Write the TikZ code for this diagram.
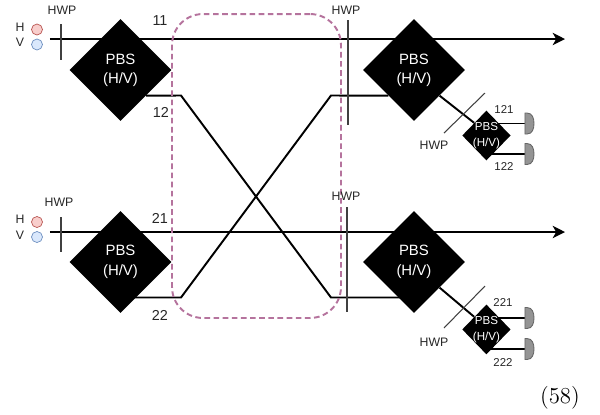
\documentclass[tikz,border=0pt]{standalone}
\usepackage{fontspec}
\setmainfont{Liberation Sans}
\newfontfamily\numfont{Latin Modern Roman}
\usetikzlibrary{shapes.geometric, arrows.meta, positioning, backgrounds}
\definecolor{polred}{HTML}{F8CECC}
\definecolor{polredline}{HTML}{B85450}
\definecolor{polblue}{HTML}{DAE8FC}
\definecolor{polblueline}{HTML}{6C8EBF}
\definecolor{boxline}{HTML}{B5739D}

\begin{document}
\begin{tikzpicture}[
    x=0.02cm, y=0.02cm, on grid,
    pbs/.style = {diamond, fill=black, text=white, inner sep=0pt, align=center, font=\fontsize{8.5}{11}\selectfont, minimum width=2.04cm, minimum height=2.04cm},
    pbssmall/.style = {diamond, fill=black, inner sep=0pt, minimum width=0.97cm, minimum height=1.0cm},
    pbstext/.style = {text=white, inner sep=0pt, align=center, font=\fontsize{6.6}{9}\selectfont},
    lbl/.style = {inner sep=0pt, text=black!85, font=\fontsize{7}{8}\selectfont},
    num/.style = {lbl, font=\fontsize{8.2}{10}\selectfont},
    numsmall/.style = {lbl, font=\fontsize{6.5}{8}\selectfont},
    polh/.style = {circle, draw=polredline, fill=polred, inner sep=0pt, minimum size=0.22cm, line width=0.4pt},
    polv/.style = {circle, draw=polblueline, fill=polblue, inner sep=0pt, minimum size=0.22cm, line width=0.4pt},
    beam/.style = {draw=black, line width=1.1pt},
    arrow/.style = {beam, -{Stealth[length=7pt,width=7pt,inset=2pt]}},
    wave/.style = {draw=black!75, line width=0.6pt},
    dashbox/.style = {draw=boxline, dash pattern=on 3.2pt off 2pt, line width=1.1pt, rounded corners=0.62cm, minimum width=3.38cm, minimum height=6.08cm},
    detector/.pic = {\draw[draw=black!60, fill=black!42, line width=0.5pt] (0,10.5) -- (2,10.5) .. controls (7.5,10.5) and (9,5) .. (9,0) .. controls (9,-5) and (7.5,-10.5) .. (2,-10.5) -- (0,-10.5) -- cycle;}
]
\useasboundingbox (0,0) rectangle (600,-414);

% big splitters
\node (pbs_tl) [pbs] at (120.5,-70) {PBS\\(H/V)};
\node (pbs_bl) [pbs, below=3.84cm of pbs_tl] {PBS\\(H/V)};
\node (pbs_tr) [pbs, right=5.87cm of pbs_tl] {PBS\\(H/V)};
\node (pbs_br) [pbs, below=3.84cm of pbs_tr] {PBS\\(H/V)};

% small splitters
\node (pbs_ta) [pbssmall, below right=1.31cm and 1.45cm of pbs_tr] {};
\node (pbs_ba) [pbssmall, below right=1.35cm and 1.45cm of pbs_br] {};
\node (txt_ta) [pbstext] at (pbs_ta) {PBS\\(H/V)};
\node (txt_ba) [pbstext] at (pbs_ba) {PBS\\(H/V)};

% input circles
\node (pol_th) [polh] at (37,-29.5) {};
\node (pol_tv) [polv] at (37,-44.5) {};
\node (pol_bh) [polh] at (37,-222) {};
\node (pol_bv) [polv] at (37,-237) {};
\node (lbl_th) [lbl, left=0.34cm of pol_th, yshift=1.2pt] {H};
\node (lbl_tv) [lbl, left=0.34cm of pol_tv, yshift=1.2pt] {V};
\node (lbl_bh) [lbl, left=0.34cm of pol_bh, yshift=1.6pt] {H};
\node (lbl_bv) [lbl, left=0.34cm of pol_bv, yshift=1.2pt] {V};

% free ends
\coordinate (in_t) at (50,-39);
\coordinate (out_t) at (565,-39);
\coordinate (in_b) at (50,-232);
\coordinate (out_b) at (565,-232);
\coordinate (bend_a) at (181,-95.5);
\coordinate (bend_b) at (331,-297.5);
\coordinate (bend_c) at (181,-297.5);
\coordinate (bend_d) at (331,-95.5);
\coordinate (hwp_a) at (61,-24);
\coordinate (hwp_b) at (61,-60);
\coordinate (hwp_c) at (61,-217);
\coordinate (hwp_d) at (61,-252);
\coordinate (hwp_e) at (348,-20);
\coordinate (hwp_f) at (348,-125);
\coordinate (hwp_g) at (347,-207);
\coordinate (hwp_h) at (347,-312);
\coordinate (hwp_i) at (485,-93);
\coordinate (hwp_j) at (444,-133);
\coordinate (hwp_k) at (485,-286);
\coordinate (hwp_l) at (444,-328);

% detectors
\coordinate (det_121) at (525,-123.5);
\coordinate (det_122) at (525,-154);
\coordinate (det_221) at (525,-318);
\coordinate (det_222) at (525,-349);
\pic at (det_121) {detector};
\pic at (det_122) {detector};
\pic at (det_221) {detector};
\pic at (det_222) {detector};

\begin{scope}[on background layer]
\draw [arrow] (in_t) -- (out_t);
\draw [arrow] (in_b) -- (out_b);
\draw [beam] (pbs_tl.south east) -- (bend_a) -- (bend_b) -- (pbs_br.center |- bend_b);
\draw [beam] (pbs_bl.center |- bend_c) -- (bend_c) -- (bend_d) -- (pbs_tr.south west);
\draw [beam] (pbs_tr.south east) -- (pbs_ta.north west);
\draw [beam] (pbs_br.south east) -- (pbs_ba.north west);
\draw [beam] (pbs_ta.center |- det_121) -- (det_121);
\draw [beam] (pbs_ta.center |- det_122) -- (det_122);
\draw [beam] (pbs_ba.center |- det_221) -- (det_221);
\draw [beam] (pbs_ba.center |- det_222) -- (det_222);
\end{scope}

\draw [wave] (hwp_a) -- (hwp_b);
\draw [wave] (hwp_c) -- (hwp_d);
\draw [wave] (hwp_e) -- (hwp_f);
\draw [wave] (hwp_g) -- (hwp_h);
\draw [wave] (hwp_i) -- (hwp_j);
\draw [wave] (hwp_k) -- (hwp_l);

\node (box) [dashbox] at (256.5,-166) {};

% labels
\node (lbl_h1) [lbl] at (62,-10) {HWP};
\node (lbl_h2) [lbl] at (59,-202) {HWP};
\node (lbl_h3) [lbl] at (346,-10) {HWP};
\node (lbl_h4) [lbl] at (346,-196) {HWP};
\node (lbl_h5) [lbl] at (434,-145) {HWP};
\node (lbl_h6) [lbl] at (434,-342) {HWP};
\node (lbl_11) [num] at (160,-21) {11};
\node (lbl_12) [num] at (161,-112) {12};
\node (lbl_21) [num] at (160,-218) {21};
\node (lbl_22) [num] at (160,-315) {22};
\node (lbl_121) [numsmall] at (504,-110) {121};
\node (lbl_122) [numsmall] at (504,-167) {122};
\node (lbl_221) [numsmall] at (503,-303) {221};
\node (lbl_222) [numsmall] at (503,-363) {222};
\node (eqno) [lbl, text=black, font=\numfont\fontsize{13}{15}\selectfont] at (560,-398) {(58)};
\end{tikzpicture}
\end{document}
